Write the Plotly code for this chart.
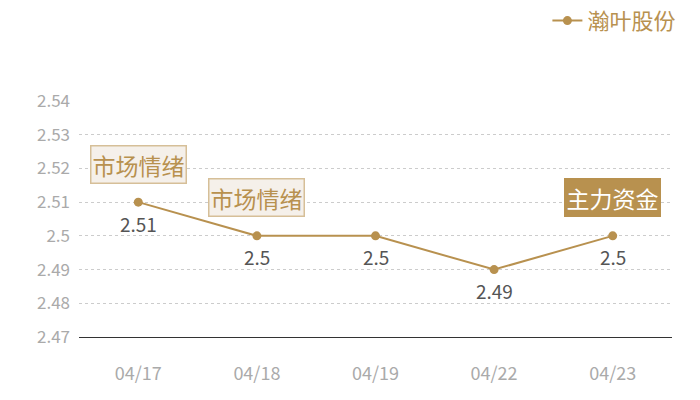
import plotly.graph_objects as go

dates = ["04/17", "04/18", "04/19", "04/22", "04/23"]
prices = [2.51, 2.50, 2.50, 2.49, 2.50]
series_name = "瀚叶股份"
y_ticks = [2.47, 2.48, 2.49, 2.50, 2.51, 2.52, 2.53, 2.54]
notes = [("04/17", 2.51, "市场情绪", "light"),
         ("04/18", 2.50, "市场情绪", "light"),
         ("04/23", 2.50, "主力资金", "dark")]

GOLD = "#b8914f"
FONT = "Noto Sans CJK SC"

fig = go.Figure()
fig.add_trace(go.Scatter(
    x=dates, y=prices, name=series_name, mode="lines+markers",
    line=dict(color=GOLD, width=2),
    marker=dict(color=GOLD, size=9),
))

for d, v in zip(dates, prices):
    fig.add_annotation(x=d, y=v, text=f"{v:g}", showarrow=False, yshift=-21,
                       font=dict(size=19, color="#555555", family=FONT))

for d, v, t, style in notes:
    if style == "light":
        fig.add_annotation(x=d, y=v, text=t, showarrow=True, arrowcolor="rgba(0,0,0,0)",
                           ax=0, ay=-38, font=dict(size=23, color=GOLD, family=FONT),
                           bgcolor="#f5f0ea", bordercolor="#d6bf98", borderwidth=1.5, borderpad=1)
    else:
        fig.add_annotation(x=d, y=v, text=t, showarrow=True, arrowcolor="rgba(0,0,0,0)",
                           ax=0, ay=-38, font=dict(size=23, color="#ffffff", family=FONT),
                           bgcolor=GOLD, bordercolor=GOLD, borderwidth=1.5, borderpad=1)

# the page body has an 8px default margin; compensate so the plot lands where it should
fig.update_layout(
    width=700, height=400,
    margin=dict(l=71, r=36, t=93, b=71, autoexpand=False),
    paper_bgcolor="white", plot_bgcolor="white",
    font=dict(family=FONT),
    showlegend=True,
    legend=dict(xref="container", yref="container", x=0.962, xanchor="right",
                y=0.968, yanchor="middle", orientation="h",
                font=dict(size=22, color=GOLD, family=FONT), itemwidth=30),
    xaxis=dict(type="category", range=[-0.5, 4.5], showgrid=False, automargin=False,
               showline=True, linecolor="#333333", linewidth=1,
               ticks="", tickfont=dict(size=18, color="#aaaaaa", family=FONT),
               ticklabelstandoff=20),
    yaxis=dict(range=[2.47, 2.54], tickvals=y_ticks, ticktext=[f"{v:g}" for v in y_ticks],
               automargin=False,
               showgrid=True, gridcolor="#cccccc", griddash="dot", gridwidth=1,
               zeroline=False, showline=False, ticks="",
               tickfont=dict(size=17, color="#aaaaaa", family=FONT),
               ticklabelstandoff=8),
)

fig.write_html("out.html")
